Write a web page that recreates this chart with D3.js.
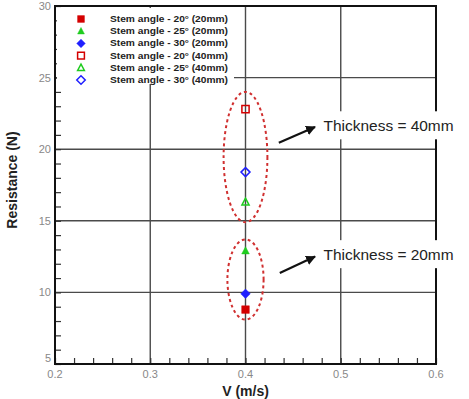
<!DOCTYPE html>
<html><head><meta charset="utf-8">
<script src="https://cdn.jsdelivr.net/npm/d3@7"></script>
<style>body{margin:0;background:#fff}svg{display:block}</style>
</head><body>
<svg id="c" width="469" height="399"></svg>
<script>
// ---- data ----
const seriesNames = ["Stem angle - 20° (20mm)","Stem angle - 25° (20mm)","Stem angle - 30° (20mm)",
                     "Stem angle - 20° (40mm)","Stem angle - 25° (40mm)","Stem angle - 30° (40mm)"];
const xValues = [0.4, 0.4, 0.4, 0.4, 0.4, 0.4];
const yValues = [8.8, 12.9, 9.9, 22.8, 16.3, 18.4];
const seriesColors = ["#d40000","#1fcc1f","#1f1fff","#d40000","#1fcc1f","#1f1fff"];
const seriesShapes = ["square","triangle","diamond","square","triangle","diamond"];
const seriesFilled = [true,true,true,false,false,false];
const xTicks = [0.2,0.3,0.4,0.5,0.6];
const yTicks = [5,10,15,20,25,30];
const groupLabels = ["Thickness = 20mm","Thickness = 40mm"];
const groupYMin = [8.1, 14.9];
const groupYMax = [13.7, 24.0];
const groupHalfWidth = [0.019, 0.023];
const arrowFrom = [[0.436,11.35],[0.435,20.45]];
const arrowTo = [[0.473,12.5],[0.473,21.55]];
const labelPos = [[0.482,12.6],[0.482,21.6]];

// ---- layout ----
const svg = d3.select("#c");
const L=55, R=436, T=6, B=364;
const x = d3.scaleLinear().domain([0.2,0.6]).range([L,R]);
const y = d3.scaleLinear().domain([5,30]).range([B,T]);

// gridlines
const grid = svg.append("g").attr("stroke","#4a4a4a").attr("stroke-width",1.4);
xTicks.slice(1,-1).forEach(v=>grid.append("line").attr("x1",x(v)).attr("x2",x(v)).attr("y1",T).attr("y2",B));
yTicks.slice(1,-1).forEach(v=>grid.append("line").attr("x1",L).attr("x2",R).attr("y1",y(v)).attr("y2",y(v)));

// axes with inward ticks
const ax = svg.append("g");
const xMinor = d3.range(0.2,0.6001,0.02);
const yMinor = d3.range(5,30.001,1);
ax.append("g").attr("transform",`translate(0,${B})`)
  .call(d3.axisBottom(x).tickValues(xMinor).tickSize(-6).tickFormat(""))
  .call(g=>{g.select(".domain").remove();g.selectAll("line").attr("stroke","#333").attr("stroke-width",1.2);});
ax.append("g").attr("transform",`translate(${L},0)`)
  .call(d3.axisLeft(y).tickValues(yMinor).tickSize(-6).tickFormat(""))
  .call(g=>{g.select(".domain").remove();g.selectAll("line").attr("stroke","#333").attr("stroke-width",1.2);});

// tick labels
const tl = svg.append("g").attr("font-family","Liberation Sans, Arial, sans-serif").attr("font-size",11).attr("fill","#888");
xTicks.forEach(v=>tl.append("text").attr("x",x(v)).attr("y",B+14).attr("text-anchor","middle").text(v.toFixed(1)));
yTicks.forEach(v=>tl.append("text").attr("x",L-4).attr("y",y(v)+(v===5?-2:4)).attr("text-anchor","end").text(v));

// legend background
svg.append("rect").attr("x",L+2).attr("y",T+2).attr("width",177).attr("height",76).attr("fill","#fff");

// annotation label backgrounds
groupLabels.forEach((t,i)=>{
  svg.append("rect").attr("x",x(labelPos[i][0])-4).attr("y",y(labelPos[i][1])-15).attr("width",140).attr("height",28).attr("fill","#fff");
});

// frame
svg.append("rect").attr("x",L).attr("y",T).attr("width",R-L).attr("height",B-T)
  .attr("fill","none").attr("stroke","#111").attr("stroke-width",2);

// gaps in the right border behind labels
groupLabels.forEach((t,i)=>{
  svg.append("rect").attr("x",R-2).attr("y",y(labelPos[i][1])-15).attr("width",4).attr("height",28).attr("fill","#fff");
});

// ellipses
groupLabels.forEach((t,i)=>{
  const cy=(y(groupYMin[i])+y(groupYMax[i]))/2, ry=(y(groupYMin[i])-y(groupYMax[i]))/2;
  const rx=x(0.4+groupHalfWidth[i])-x(0.4);
  svg.append("ellipse").attr("cx",x(0.4)).attr("cy",cy).attr("rx",rx).attr("ry",ry)
    .attr("fill","none").attr("stroke","#d03030").attr("stroke-width",2).attr("stroke-dasharray","3,3");
});

// markers
function shapePath(s,sz){
  if(s==="square") return `M${-sz},${-sz}H${sz}V${sz}H${-sz}Z`;
  if(s==="triangle") return `M0,${-sz*1.1}L${sz},${sz*0.8}L${-sz},${sz*0.8}Z`;
  return `M0,${-sz*1.25}L${sz*1.25},0L0,${sz*1.25}L${-sz*1.25},0Z`;
}
const mk = svg.append("g");
yValues.forEach((v,i)=>{
  mk.append("path").attr("d",shapePath(seriesShapes[i],seriesFilled[i]?3.8:3.6))
    .attr("transform",`translate(${x(xValues[i])},${y(v)})`)
    .attr("fill",seriesFilled[i]?seriesColors[i]:"none")
    .attr("stroke",seriesColors[i]).attr("stroke-width",seriesFilled[i]?0.5:1.5);
});

// arrows
const defs=svg.append("defs");
defs.append("marker").attr("id","ah").attr("viewBox","0 0 10 10").attr("refX",9).attr("refY",5)
  .attr("markerWidth",4.5).attr("markerHeight",4.5).attr("orient","auto")
  .append("path").attr("d","M0,0L10,5L0,10Z").attr("fill","#111");
arrowFrom.forEach((f,i)=>{
  svg.append("line").attr("x1",x(f[0])).attr("y1",y(f[1])).attr("x2",x(arrowTo[i][0])).attr("y2",y(arrowTo[i][1]))
    .attr("stroke","#111").attr("stroke-width",2.2).attr("marker-end","url(#ah)");
});
groupLabels.forEach((t,i)=>{
  svg.append("text").attr("x",x(labelPos[i][0])).attr("y",y(labelPos[i][1])+5)
    .attr("font-family","Liberation Sans, Arial, sans-serif").attr("font-size",15).attr("fill","#222")
    .attr("textLength",130).attr("lengthAdjust","spacingAndGlyphs").text(t);
});

// legend
const lg = svg.append("g").attr("font-family","Liberation Sans, Arial, sans-serif").attr("font-size",8.6).attr("font-weight","bold").attr("fill","#222");
seriesNames.forEach((n,i)=>{
  const ly = 19 + i*12.2;
  lg.append("path").attr("d",shapePath(seriesShapes[i],3.4)).attr("transform",`translate(81,${ly})`)
    .attr("fill",seriesFilled[i]?seriesColors[i]:"none").attr("stroke",seriesColors[i]).attr("stroke-width",seriesFilled[i]?0.5:1.5);
  lg.append("text").attr("x",110).attr("y",ly+3).attr("textLength",118).attr("lengthAdjust","spacingAndGlyphs").text(n);
});

// axis titles
svg.append("text").attr("x",x(0.4)).attr("y",396).attr("text-anchor","middle")
  .attr("font-family","Liberation Sans, Arial, sans-serif").attr("font-size",14).attr("font-weight","bold").attr("fill","#222").text("V (m/s)");
svg.append("text").attr("transform",`translate(17,180) rotate(-90)`).attr("text-anchor","middle")
  .attr("font-family","Liberation Sans, Arial, sans-serif").attr("font-size",14).attr("font-weight","bold").attr("fill","#222").text("Resistance (N)");
</script>
</body></html>
